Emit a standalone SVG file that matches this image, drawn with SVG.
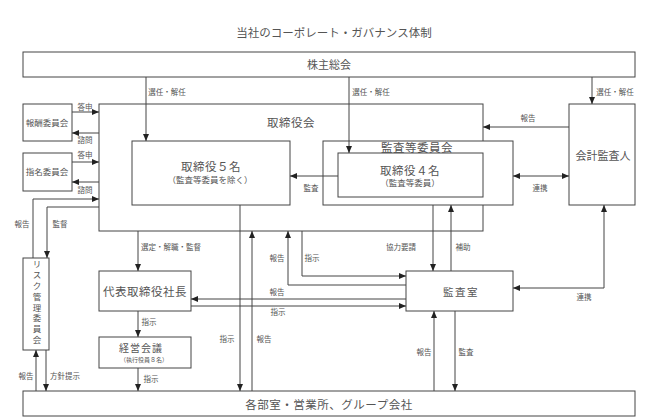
<svg xmlns="http://www.w3.org/2000/svg" width="649" height="418" viewBox="0 0 649 418">
<style>
.box{fill:#fff;stroke:#444;stroke-width:1}
.ln{fill:none;stroke:#444;stroke-width:1}
.ar{marker-end:url(#ah)}
.bi{marker-start:url(#ah);marker-end:url(#ah)}
text{font-family:"Liberation Serif","Noto Sans CJK JP",serif;fill:#555;text-anchor:middle}
.lb{font-size:7.5px}
.t12{font-size:11.5px;letter-spacing:0.5px}
.t11{font-size:11px}
.t8{font-size:8.5px}
.t6{font-size:6px}
</style>
<defs>
<marker id="ah" markerUnits="userSpaceOnUse" markerWidth="7" markerHeight="7" viewBox="0 0 7 7" refX="7" refY="3.5" orient="auto-start-reverse">
<path d="M0,0.5 L7,3.5 L0,6.5 Z" fill="#222"/>
</marker>
</defs>
<rect width="649" height="418" fill="#fff"/>
<text x="334" y="37" style="font-size:11.5px">当社のコーポレート・ガバナンス体制</text>

<g id="shareholders"><rect class="box" x="23" y="52" width="612" height="25"/><text class="t11" x="329" y="69">株主総会</text></g>
<g id="board"><rect class="box" x="99" y="104" width="384" height="127"/><text class="t12" x="291" y="127">取締役会</text></g>
<g id="directors5"><rect class="box" x="132" y="141" width="158" height="64"/><text class="t12" x="211" y="171">取締役５名</text><text class="t8" x="210" y="183">（監査等委員を除く）</text></g>
<g id="auditcommittee"><rect class="box" x="323" y="141" width="190" height="64"/><text class="t12" x="417" y="152">監査等委員会</text></g>
<g id="directors4"><rect class="box" x="338" y="153" width="145" height="44"/><text class="t12" x="410" y="175">取締役４名</text><text class="t8" x="410" y="186">（監査等委員）</text></g>
<g id="accountingauditor"><rect class="box" x="569" y="104" width="66" height="101"/><text class="t11" x="603" y="160">会計監査人</text></g>
<g id="compensation"><rect class="box" x="23" y="104" width="49" height="37"/><text class="t8" x="47" y="126">報酬委員会</text></g>
<g id="nomination"><rect class="box" x="23" y="153" width="49" height="38"/><text class="t8" x="47" y="175">指名委員会</text></g>
<g id="risk"><rect class="box" x="23" y="258" width="26" height="92"/>
<text class="t8" x="37"><tspan x="37" y="267">リ</tspan><tspan x="37" y="278">ス</tspan><tspan x="37" y="289">ク</tspan><tspan x="37" y="300">管</tspan><tspan x="37" y="311">理</tspan><tspan x="37" y="321">委</tspan><tspan x="37" y="332">員</tspan><tspan x="37" y="343">会</tspan></text></g>
<g id="president"><rect class="box" x="99" y="271" width="92" height="40"/><text class="t12" x="145" y="296">代表取締役社長</text></g>
<g id="management"><rect class="box" x="99" y="337" width="92" height="31"/><text style="font-size:10px;letter-spacing:1px" x="141" y="352">経営会議</text><text class="t6" x="144" y="362">（執行役員８名）</text></g>
<g id="auditoffice"><rect class="box" x="406" y="271" width="107" height="40"/><text style="font-size:10.5px;letter-spacing:1.5px" x="461" y="296">監査室</text></g>
<g id="departments"><rect class="box" x="23" y="391" width="612" height="25"/><text class="t12" x="329" y="409">各部室・営業所、グループ会社</text></g>

<g id="connectors">
<path class="ln ar" d="M146,77V141"/>
<path class="ln ar" d="M349,77V153"/>
<path class="ln ar" d="M592,77V104"/>
<path class="ln ar" d="M72,112H99"/>
<path class="ln ar" d="M99,133H72"/>
<path class="ln ar" d="M72,162H99"/>
<path class="ln ar" d="M99,182H72"/>
<path class="ln ar" d="M33,258V199H99"/>
<path class="ln ar" d="M99,207H47V258"/>
<path class="ln ar" d="M569,127H483"/>
<path class="ln bi" d="M513,176H569"/>
<path class="ln ar" d="M338,176H290"/>
<path class="ln ar" d="M138,231V271"/>
<path class="ln ar" d="M138,311V337"/>
<path class="ln ar" d="M138,368V391"/>
<path class="ln ar" d="M36,391V350"/>
<path class="ln ar" d="M46,350V391"/>
<path class="ln ar" d="M240,205V391"/>
<path class="ln ar" d="M252,391V231"/>
<path class="ln ar" d="M406,285H288V231"/>
<path class="ln ar" d="M302,231V276H406"/>
<path class="ln ar" d="M406,299H191"/>
<path class="ln ar" d="M191,306H406"/>
<path class="ln ar" d="M433,205V271"/>
<path class="ln ar" d="M451,271V205"/>
<path class="ln bi" d="M604,205V288H513"/>
<path class="ln ar" d="M434,391V311"/>
<path class="ln ar" d="M455,311V391"/>
</g>

<g id="labels" class="lb">
<text class="lb" x="167" y="95">選任・解任</text>
<text class="lb" x="371" y="95">選任・解任</text>
<text class="lb" x="615" y="95">選任・解任</text>
<text class="lb" x="85" y="110">答申</text>
<text class="lb" x="85" y="143">諮問</text>
<text class="lb" x="85" y="158">答申</text>
<text class="lb" x="85" y="193">諮問</text>
<text class="lb" x="22" y="227">報告</text>
<text class="lb" x="60" y="227">監督</text>
<text class="lb" x="528" y="121">報告</text>
<text class="lb" x="540" y="191">連携</text>
<text class="lb" x="311" y="191">監査</text>
<text class="lb" x="171" y="250">選定・解職・監督</text>
<text class="lb" x="401" y="250">協力要請</text>
<text class="lb" x="463" y="250">補助</text>
<text class="lb" x="277" y="261">報告</text>
<text class="lb" x="312" y="261">指示</text>
<text class="lb" x="277" y="295">報告</text>
<text class="lb" x="278" y="315">指示</text>
<text class="lb" x="149" y="325">指示</text>
<text class="lb" x="227" y="342">指示</text>
<text class="lb" x="264" y="342">報告</text>
<text class="lb" x="584" y="300">連携</text>
<text class="lb" x="424" y="355">報告</text>
<text class="lb" x="466" y="355">監査</text>
<text class="lb" x="151" y="382">指示</text>
<text class="lb" x="26" y="379">報告</text>
<text class="lb" x="65" y="379">方針提示</text>
</g>
</svg>
